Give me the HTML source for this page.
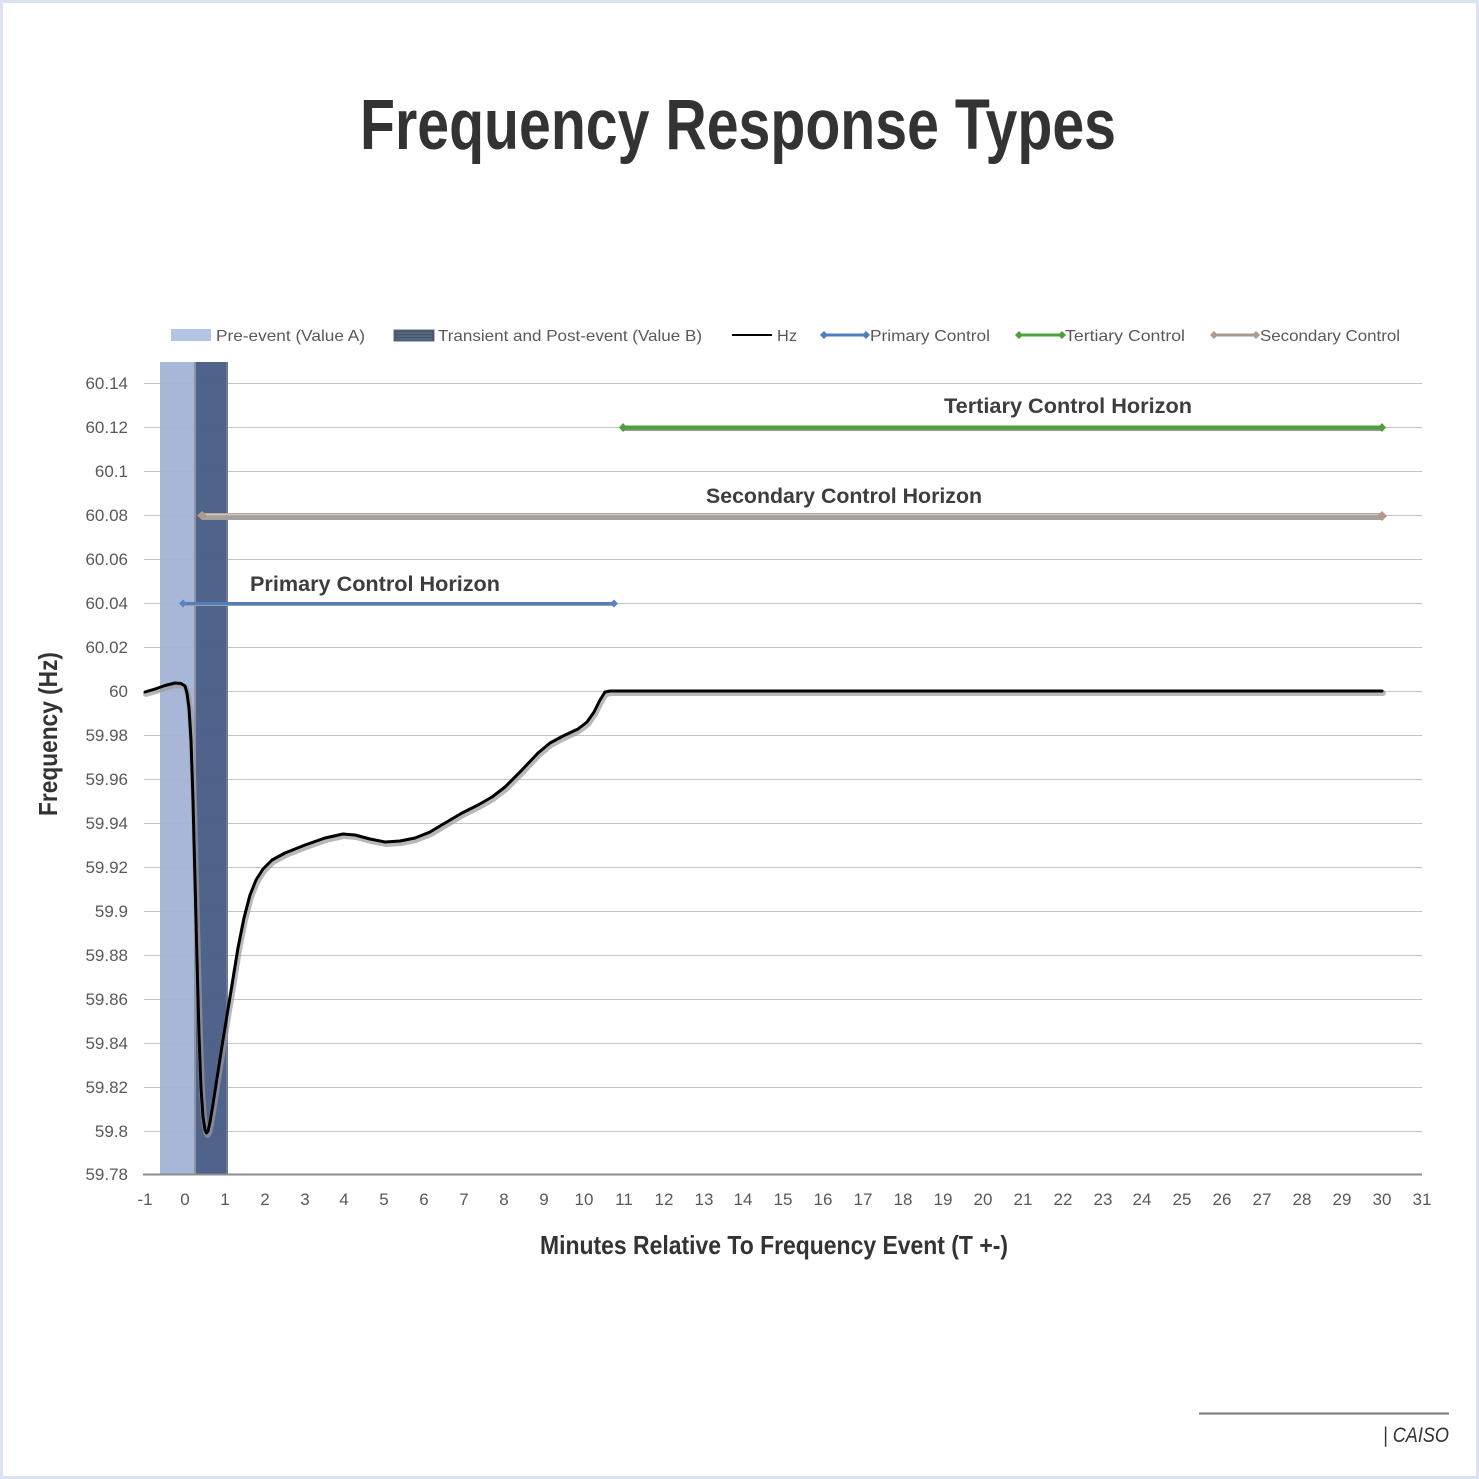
<!DOCTYPE html>
<html><head><meta charset="utf-8"><style>
html,body{margin:0;padding:0;background:#fff;}
svg{display:block;}
</style></head><body>
<svg width="1479" height="1479" viewBox="0 0 1479 1479" xmlns="http://www.w3.org/2000/svg" font-family="Liberation Sans, sans-serif">
<rect x="1.5" y="1.5" width="1476" height="1476" fill="#fff" stroke="#dae3ef" stroke-width="3"/>
<text x="360" y="149" font-size="71" font-weight="bold" fill="#333" textLength="756" lengthAdjust="spacingAndGlyphs">Frequency Response Types</text>

<!-- legend -->
<rect x="171" y="329" width="40" height="12" fill="#b4c5e4"/>
<text x="216" y="341" font-size="16" fill="#595959" textLength="149" lengthAdjust="spacingAndGlyphs">Pre-event (Value A)</text>
<rect x="394" y="330" width="40" height="11" fill="#44546a" stroke="#5a6a80" stroke-width="1"/>
<line x1="396" y1="333" x2="432" y2="333" stroke="#6b7a90" stroke-width="1"/>
<line x1="396" y1="336" x2="432" y2="336" stroke="#6b7a90" stroke-width="1"/>
<line x1="396" y1="339" x2="432" y2="339" stroke="#6b7a90" stroke-width="1"/>
<text x="438" y="341" font-size="16" fill="#595959" textLength="264" lengthAdjust="spacingAndGlyphs">Transient and Post-event (Value B)</text>
<line x1="732" y1="335" x2="772" y2="335" stroke="#000" stroke-width="2"/>
<text x="777" y="341" font-size="16" fill="#595959" textLength="20" lengthAdjust="spacingAndGlyphs">Hz</text>
<line x1="824" y1="335" x2="866" y2="335" stroke="#4f7fc0" stroke-width="3"/>
<path d="M824 331 L828 335 L824 339 L820 335Z M866 331 L870 335 L866 339 L862 335Z" fill="#4f7fc0"/>
<text x="870" y="341" font-size="16" fill="#595959" textLength="120" lengthAdjust="spacingAndGlyphs">Primary Control</text>
<line x1="1019" y1="335" x2="1062" y2="335" stroke="#4f9f3a" stroke-width="3"/>
<path d="M1019 331 L1023 335 L1019 339 L1015 335Z M1062 331 L1066 335 L1062 339 L1058 335Z" fill="#4f9f3a"/>
<text x="1065" y="341" font-size="16" fill="#595959" textLength="120" lengthAdjust="spacingAndGlyphs">Tertiary Control</text>
<line x1="1214" y1="335" x2="1256" y2="335" stroke="#a8978d" stroke-width="3"/>
<path d="M1214 331 L1218 335 L1214 339 L1210 335Z M1256 331 L1260 335 L1256 339 L1252 335Z" fill="#b09a88"/>
<text x="1260" y="341" font-size="16" fill="#595959" textLength="140" lengthAdjust="spacingAndGlyphs">Secondary Control</text>

<!-- gridlines -->
<g stroke="#c4c4c4" stroke-width="1">
<line x1="144" y1="383.5" x2="1422" y2="383.5"/>
<line x1="144" y1="427.5" x2="1422" y2="427.5"/>
<line x1="144" y1="471.5" x2="1422" y2="471.5"/>
<line x1="144" y1="515.5" x2="1422" y2="515.5"/>
<line x1="144" y1="559.5" x2="1422" y2="559.5"/>
<line x1="144" y1="603.5" x2="1422" y2="603.5"/>
<line x1="144" y1="647.5" x2="1422" y2="647.5"/>
<line x1="144" y1="691.5" x2="1422" y2="691.5"/>
<line x1="144" y1="735.5" x2="1422" y2="735.5"/>
<line x1="144" y1="779.5" x2="1422" y2="779.5"/>
<line x1="144" y1="823.5" x2="1422" y2="823.5"/>
<line x1="144" y1="867.5" x2="1422" y2="867.5"/>
<line x1="144" y1="911.5" x2="1422" y2="911.5"/>
<line x1="144" y1="955.5" x2="1422" y2="955.5"/>
<line x1="144" y1="999.5" x2="1422" y2="999.5"/>
<line x1="144" y1="1043.5" x2="1422" y2="1043.5"/>
<line x1="144" y1="1087.5" x2="1422" y2="1087.5"/>
<line x1="144" y1="1131.5" x2="1422" y2="1131.5"/>
</g>

<!-- bands -->
<rect x="160" y="362" width="35" height="812" fill="#a3b3d6" opacity="0.95"/>
<rect x="194" y="362" width="2" height="812" fill="#8a94a4"/>
<rect x="196" y="362" width="32" height="812" fill="#4a5e87" opacity="0.97"/>
<rect x="226" y="362" width="2" height="812" fill="#7f8a9a" opacity="0.6"/>

<line x1="143" y1="1174.5" x2="1422" y2="1174.5" stroke="#8c8c8c" stroke-width="2"/>

<!-- y labels -->
<g font-size="17" fill="#595959" text-anchor="end">
<text x="128" y="389">60.14</text>
<text x="128" y="433">60.12</text>
<text x="128" y="477">60.1</text>
<text x="128" y="521">60.08</text>
<text x="128" y="565">60.06</text>
<text x="128" y="609">60.04</text>
<text x="128" y="653">60.02</text>
<text x="128" y="697">60</text>
<text x="128" y="741">59.98</text>
<text x="128" y="785">59.96</text>
<text x="128" y="829">59.94</text>
<text x="128" y="873">59.92</text>
<text x="128" y="917">59.9</text>
<text x="128" y="961">59.88</text>
<text x="128" y="1005">59.86</text>
<text x="128" y="1049">59.84</text>
<text x="128" y="1093">59.82</text>
<text x="128" y="1137">59.8</text>
<text x="128" y="1180">59.78</text>
</g>

<!-- x labels -->
<g font-size="17" fill="#595959" text-anchor="middle">
<text x="145" y="1205">-1</text>
<text x="185" y="1205">0</text>
<text x="225" y="1205">1</text>
<text x="265" y="1205">2</text>
<text x="305" y="1205">3</text>
<text x="344" y="1205">4</text>
<text x="384" y="1205">5</text>
<text x="424" y="1205">6</text>
<text x="464" y="1205">7</text>
<text x="504" y="1205">8</text>
<text x="544" y="1205">9</text>
<text x="584" y="1205">10</text>
<text x="624" y="1205">11</text>
<text x="664" y="1205">12</text>
<text x="704" y="1205">13</text>
<text x="743" y="1205">14</text>
<text x="783" y="1205">15</text>
<text x="823" y="1205">16</text>
<text x="863" y="1205">17</text>
<text x="903" y="1205">18</text>
<text x="943" y="1205">19</text>
<text x="983" y="1205">20</text>
<text x="1023" y="1205">21</text>
<text x="1063" y="1205">22</text>
<text x="1103" y="1205">23</text>
<text x="1142" y="1205">24</text>
<text x="1182" y="1205">25</text>
<text x="1222" y="1205">26</text>
<text x="1262" y="1205">27</text>
<text x="1302" y="1205">28</text>
<text x="1342" y="1205">29</text>
<text x="1382" y="1205">30</text>
<text x="1422" y="1205">31</text>
</g>

<!-- horizon lines -->
<line x1="624" y1="430" x2="1382" y2="430" stroke="#9a9a9a" stroke-width="2"/>
<line x1="623" y1="427.5" x2="1382" y2="427.5" stroke="#4f9f3a" stroke-width="4"/>
<path d="M623 423 L627 427.5 L623 432 L619 427.5Z M1382 423 L1386 427.5 L1382 432 L1378 427.5Z" fill="#4f9f3a"/>

<line x1="202" y1="516.5" x2="1382" y2="516.5" stroke="#a3a09e" stroke-width="7"/>
<line x1="202" y1="514.5" x2="1382" y2="514.5" stroke="#d9c4b4" stroke-width="1.5"/>
<path d="M202 511 L207 515.5 L202 520 L197 515.5Z M1382 511 L1387 516 L1382 521 L1377 516Z" fill="#b09a88"/>

<line x1="183" y1="605" x2="614" y2="605" stroke="#a0a0a0" stroke-width="2"/>
<line x1="183" y1="603.5" x2="614" y2="603.5" stroke="#4f7fc0" stroke-width="3"/>
<path d="M183 599.5 L187 603.5 L183 607.5 L179 603.5Z M614 599.5 L618 603.5 L614 607.5 L610 603.5Z" fill="#5b84bf"/>

<g font-size="21" font-weight="bold" fill="#3d3d3d">
<text x="944" y="413" textLength="248" lengthAdjust="spacingAndGlyphs">Tertiary Control Horizon</text>
<text x="706" y="503" textLength="276" lengthAdjust="spacingAndGlyphs">Secondary Control Horizon</text>
<text x="250" y="591" textLength="250" lengthAdjust="spacingAndGlyphs">Primary Control Horizon</text>
</g>

<!-- Hz curve -->
<polyline fill="none" stroke="#9a9a9a" stroke-opacity="0.7" stroke-width="6" stroke-linejoin="round" stroke-linecap="round" transform="translate(1,2)" points="145,692 155,689 165,685.5 175,683 181,683.5 185,686 187,693 189,708 191,740 193,800 195,880 197,960 199,1035 201,1088 203,1117 205,1130 206.5,1133 208,1131 210,1122 213,1104 217,1078 222,1046 227,1015 232,985 238,948 244,918 250,895 256,880 263,869 272,860 285,853 305,845 325,838 343,834 355,835 370,839 385,842 400,841 415,838 430,832 445,823 462,813 478,805 492,797 505,787 520,772 538,753 550,743 563,736 578,729 587,722 594,712 600,700 605,692 610,691 1382,691"/>
<polyline fill="none" stroke="#000" stroke-width="3" stroke-linejoin="round" stroke-linecap="round" points="145,692 155,689 165,685.5 175,683 181,683.5 185,686 187,693 189,708 191,740 193,800 195,880 197,960 199,1035 201,1088 203,1117 205,1130 206.5,1133 208,1131 210,1122 213,1104 217,1078 222,1046 227,1015 232,985 238,948 244,918 250,895 256,880 263,869 272,860 285,853 305,845 325,838 343,834 355,835 370,839 385,842 400,841 415,838 430,832 445,823 462,813 478,805 492,797 505,787 520,772 538,753 550,743 563,736 578,729 587,722 594,712 600,700 605,692 610,691 1382,691"/>

<!-- axis titles -->
<text x="540" y="1254" font-size="26" font-weight="bold" fill="#333" textLength="468" lengthAdjust="spacingAndGlyphs">Minutes Relative To Frequency Event (T +-)</text>
<text transform="translate(57,816) rotate(-90)" font-size="26" font-weight="bold" fill="#333" textLength="164" lengthAdjust="spacingAndGlyphs">Frequency (Hz)</text>

<!-- footer -->
<line x1="1199" y1="1413.5" x2="1449" y2="1413.5" stroke="#777" stroke-width="2"/>
<text x="1383" y="1442" font-size="21" font-style="italic" fill="#333" textLength="66" lengthAdjust="spacingAndGlyphs">| CAISO</text>
</svg>
</body></html>
